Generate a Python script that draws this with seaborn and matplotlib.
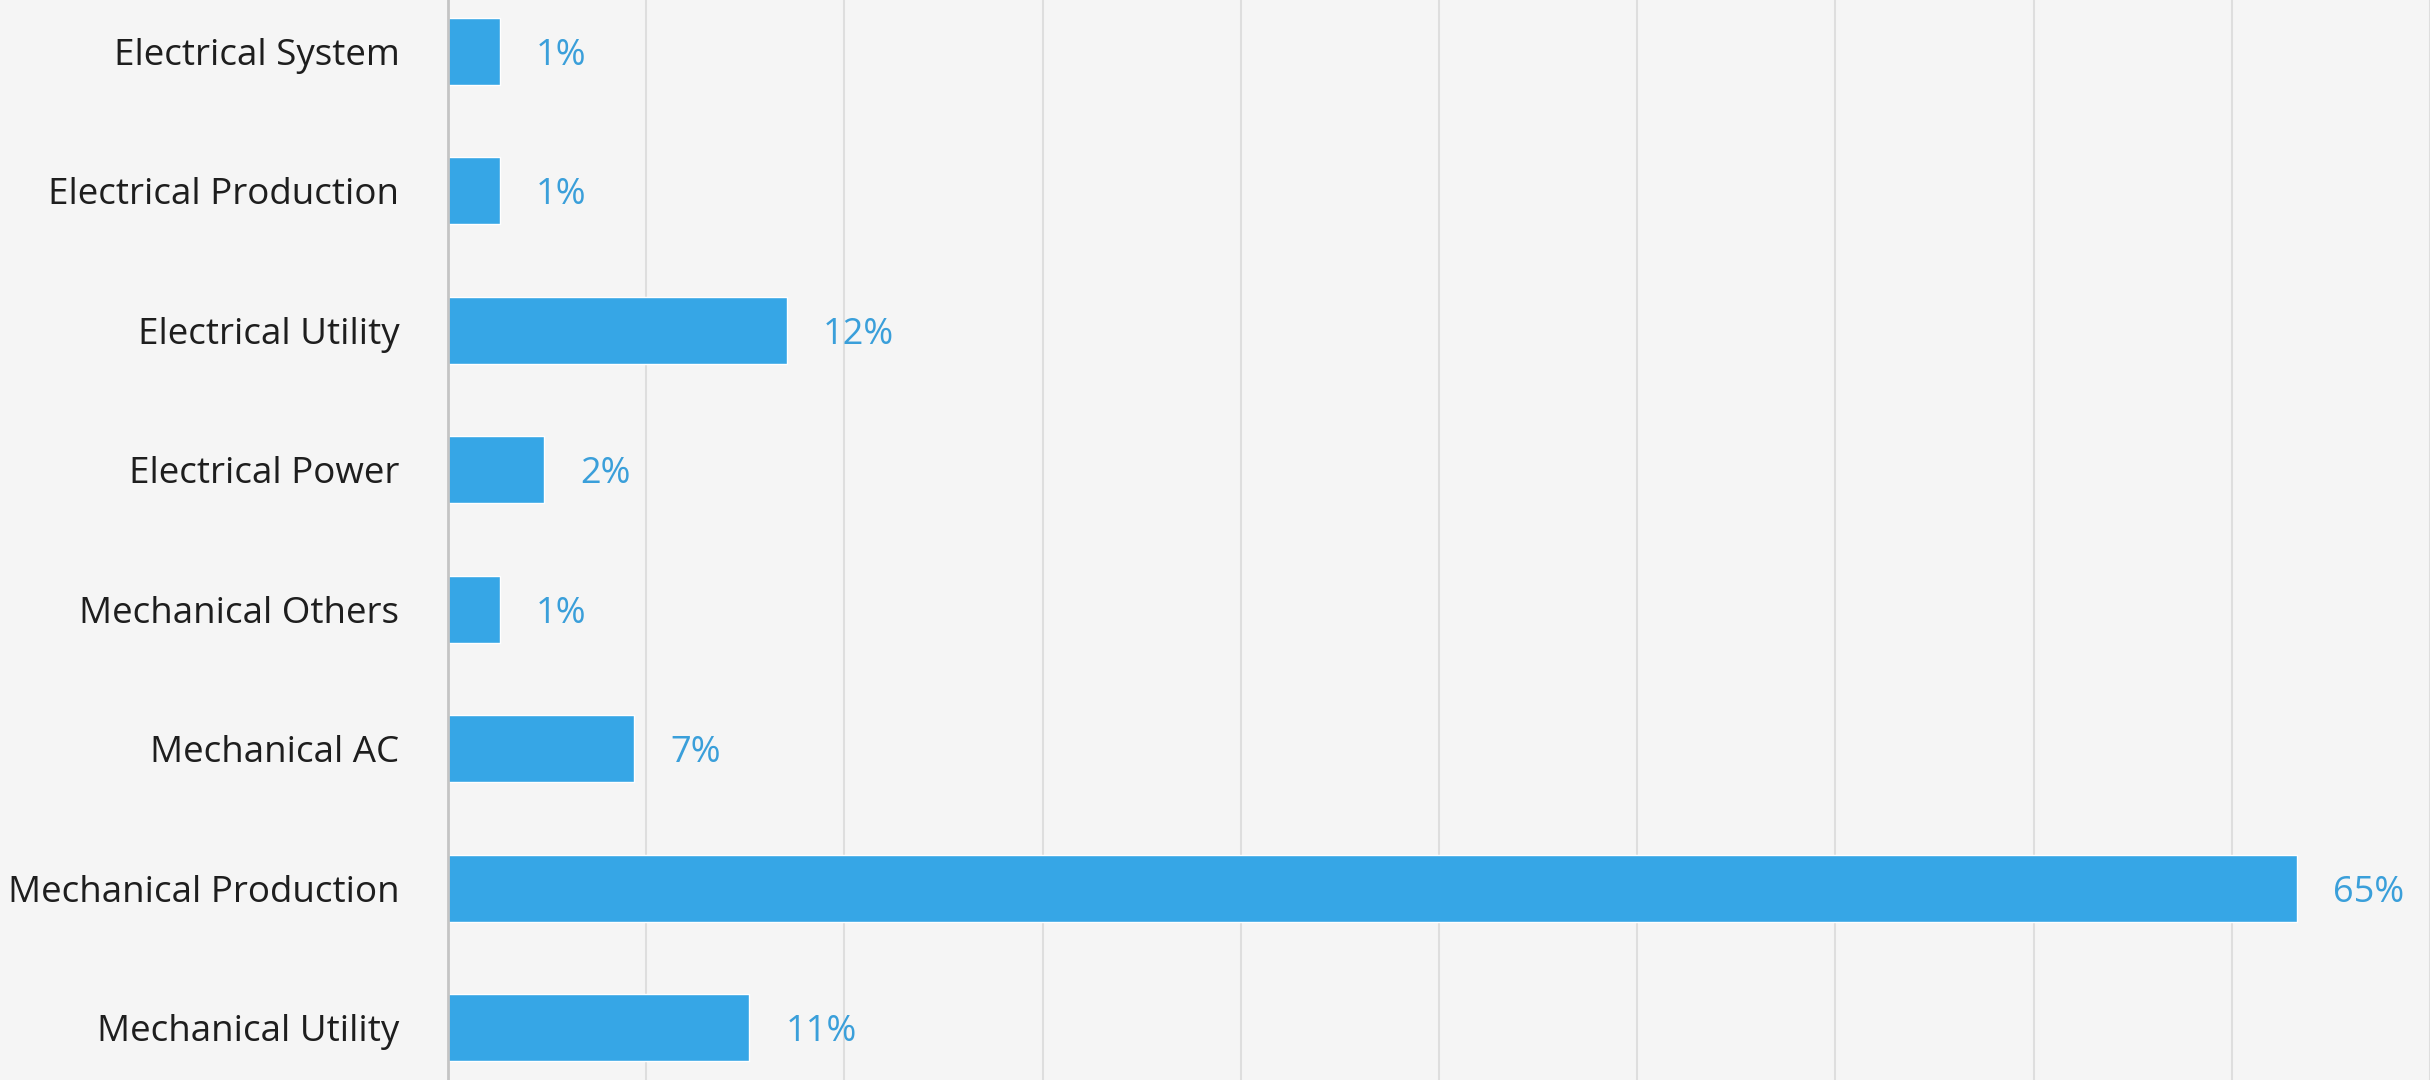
import matplotlib
matplotlib.use("Agg")
import matplotlib.pyplot as plt
import seaborn as sns
import pandas as pd

# categories, top to bottom
categories = [
    "Electrical System",
    "Electrical Production",
    "Electrical Utility",
    "Electrical Power",
    "Mechanical Others",
    "Mechanical AC",
    "Mechanical Production",
    "Mechanical Utility",
]
# bar lengths (grid step = 10)
values = [2.6, 2.6, 17.1, 4.85, 2.6, 9.4, 93.3, 15.2]
# value labels printed next to the bars
value_labels = ["1%", "1%", "12%", "2%", "1%", "7%", "65%", "11%"]

bar_color = "#36A6E6"
label_color = "#3A9FDA"
bg_color = "#F5F5F5"

df = pd.DataFrame({"category": categories, "value": values})

sns.set_theme(style="white")
plt.rcParams["font.family"] = ["Open Sans", "DejaVu Sans"]

fig = plt.figure(figsize=(24.3, 10.8), dpi=100, facecolor=bg_color)
ax = fig.add_axes([448 / 2430, 0.0, 1 - 448 / 2430, 1.0])
ax.set_facecolor(bg_color)

sns.barplot(data=df, x="value", y="category", orient="h", color=bar_color,
            saturation=1, width=0.48, ax=ax)

ax.set_xlim(0, 100)
ax.set_ylim(7.373, -0.366)
ax.set_xticks(range(0, 101, 10))
ax.set_xticklabels([])
ax.xaxis.grid(True, color="#DEDEDE", linewidth=1.5)
ax.set_axisbelow(True)
ax.tick_params(axis="x", length=0)
ax.tick_params(axis="y", length=0, pad=35, labelsize=26.5, labelcolor="#1E1E1E")
ax.set_xlabel("")
ax.set_ylabel("")

for side in ["top", "right", "bottom"]:
    ax.spines[side].set_visible(False)
ax.spines["left"].set_color("#C4C4C4")
ax.spines["left"].set_linewidth(2)

for bar, lab in zip(ax.patches, value_labels):
    ax.annotate(lab, (bar.get_width(), bar.get_y() + bar.get_height() / 2),
                xytext=(26, 0), textcoords="offset points",
                va="center_baseline", ha="left", fontsize=26, color=label_color)

fig.savefig("out.png", dpi=100, facecolor=bg_color)
